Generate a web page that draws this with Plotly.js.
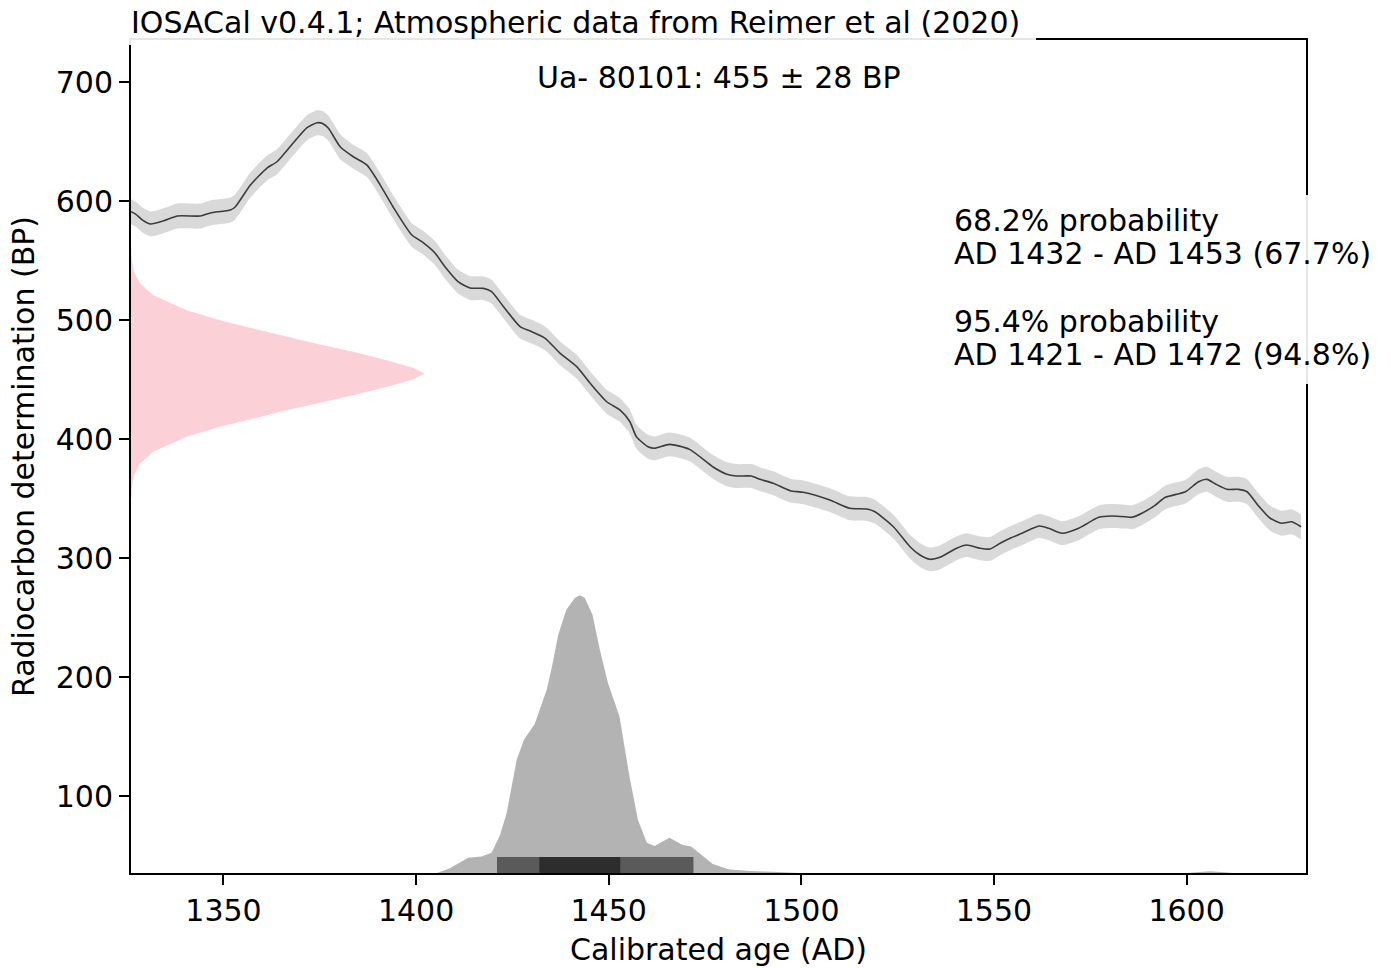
<!DOCTYPE html>
<html>
<head>
<meta charset="utf-8">
<script src="https://cdn.plot.ly/plotly-3.0.1.min.js"></script>
<style>html,body{margin:0;padding:0;background:#fff;}#chart{width:1391px;height:968px;}</style>
</head>
<body>
<div id="chart"></div>
<script>
// Calibration curve (IntCal20)
const curveYears = [1326, 1327.2, 1329, 1331.1, 1334.5, 1338.1, 1344, 1346.6, 1351.8, 1353.1, 1357, 1361.3, 1363.9, 1368.1, 1371.7, 1374.3, 1375.6, 1377.2, 1380.3, 1383.7, 1387.2, 1390.7, 1394, 1398.9, 1401.5, 1404.9, 1407.5, 1410.9, 1414, 1417.5, 1419.6, 1422.7, 1427, 1430, 1433.5, 1437.4, 1441.7, 1445.2, 1449.5, 1452.9, 1455.5, 1457.2, 1460.2, 1461.9, 1465.8, 1471, 1477, 1480.5, 1483.1, 1487, 1489.3, 1492.7, 1497.1, 1500.5, 1507.4, 1512.6, 1517, 1519.1, 1523.9, 1528.2, 1530.8, 1533.4, 1536, 1540.3, 1542.9, 1546.4, 1549, 1551.6, 1554.2, 1557.3, 1561.7, 1564.2, 1567.7, 1572, 1577.2, 1580.6, 1584.1, 1585.8, 1588.4, 1591.9, 1594.5, 1599.7, 1603.1, 1605.3, 1607.5, 1610.5, 1613.5, 1615.7, 1618.7, 1621.7, 1624.7, 1627.3, 1629.7];
const curveBP = [591, 589, 584, 580.7, 583.4, 587.4, 587.4, 590, 592.4, 595.2, 613.4, 627.7, 633, 648.7, 661.6, 665.8, 665.3, 661.3, 645.6, 637.2, 630.3, 613.4, 595.2, 571.4, 565.8, 556.3, 544.8, 532.2, 526.9, 526.6, 523.8, 511.2, 494.4, 490.2, 484.6, 472, 460.8, 446.8, 431.3, 424.4, 414.5, 401.9, 393.5, 392.2, 395.5, 391.3, 376.7, 370.6, 368.9, 368.9, 366.1, 362.8, 356.6, 355.2, 348.7, 341.8, 341.2, 338.9, 326.3, 309.5, 302.5, 298.9, 300.6, 308.2, 310.9, 308.2, 307.6, 312.4, 316.6, 320.8, 326.9, 325, 320.8, 325, 334.2, 335.3, 334.7, 334.2, 337.6, 344.5, 351, 355.7, 364.1, 366.1, 362.2, 357.7, 357.7, 355.7, 343.7, 333.4, 329.2, 330.5, 326.3];
const curveSigma = [10.5, 10.5, 10.5, 10.5, 10.5, 10.5, 10.5, 10.5, 10.5, 10.5, 10.5, 10.5, 10.5, 10.5, 10.5, 10.5, 10.5, 10.5, 10.5, 10, 10, 10, 10, 10, 10, 10, 10, 10, 10, 10, 10, 10, 10, 10, 10, 10, 10, 10, 10, 10, 10, 10, 10, 10, 10, 10, 10, 10, 10, 10, 10, 10, 10, 10, 10, 10, 10, 10, 10, 10, 10, 10, 10, 10, 10, 10, 10, 10, 10, 10, 10, 10, 10, 10, 10, 10, 10, 10, 10, 10, 10, 10, 10.5, 10.5, 10.5, 10.5, 10.5, 10.5, 10.5, 10.5, 10.5, 10.5, 10.5];

// Radiocarbon determination (normal curve, relative width)
const dateBP = [350, 360, 369.4, 379.4, 389.2, 401.8, 410.2, 417.2, 424.2, 430.5, 436.75, 443.8, 450.1, 455, 459.9, 466.2, 473.25, 479.5, 485.8, 492.8, 499.8, 508.2, 520.8, 530.6, 540.6, 550, 560];
const dateDensity = [0.001, 0.003, 0.01, 0.031, 0.076, 0.189, 0.303, 0.416, 0.53, 0.643, 0.756, 0.87, 0.96, 1.0, 0.96, 0.87, 0.756, 0.643, 0.53, 0.416, 0.303, 0.189, 0.076, 0.031, 0.01, 0.003, 0.001];

// Calibrated probability distribution (relative)
const calYears = [1400, 1405.4, 1408.8, 1411, 1413.5, 1417, 1419.6, 1421.8, 1423.5, 1426.1, 1428, 1430.8, 1433.9, 1435.2, 1436.9, 1439, 1441.2, 1442.5, 1443.8, 1445.8, 1447.7, 1449.8, 1452.8, 1455.4, 1457.6, 1459.9, 1461.9, 1465.8, 1469.2, 1471.4, 1474, 1477, 1481.3, 1486.5, 1490.9, 1499.5, 1600, 1603, 1606, 1609, 1612];
const calProb = [0, 0, 0.017, 0.035, 0.055, 0.059, 0.073, 0.137, 0.215, 0.407, 0.48, 0.537, 0.66, 0.738, 0.858, 0.948, 0.99, 1.0, 0.99, 0.93, 0.804, 0.684, 0.564, 0.347, 0.191, 0.109, 0.097, 0.127, 0.101, 0.095, 0.065, 0.032, 0.013, 0.007, 0.005, 0, 0, 0.004, 0.006, 0.004, 0];

// HPD intervals
const hpd68 = [1432, 1453];
const hpd95 = [1421, 1472];
const hpdBarHeight = 0.058;

const xTicks = [1350, 1400, 1450, 1500, 1550, 1600];
const yTicks = [100, 200, 300, 400, 500, 600, 700];

const titleText = 'IOSACal v0.4.1; Atmospheric data from Reimer et al (2020)';
const sampleText = 'Ua- 80101: 455 ± 28 BP';
const probLines = ['68.2% probability', 'AD 1432 - AD 1453 (67.7%)', '95.4% probability', 'AD 1421 - AD 1472 (94.8%)'];

const upper = curveBP.map((v, i) => v + curveSigma[i]);
const lower = curveBP.map((v, i) => v - curveSigma[i]);

const FONT = 'DejaVu Sans, Liberation Sans, sans-serif';

function rectTrace(iv, h, color) {
  return {x: [iv[0], iv[0], iv[1], iv[1], iv[0]], y: [0, h, h, 0, 0], xaxis: 'x', yaxis: 'y2',
          mode: 'lines', line: {width: 0, color: color}, fill: 'toself', fillcolor: color, showlegend: false, hoverinfo: 'skip'};
}

const traces = [
  {x: curveYears, y: upper, mode: 'lines', line: {width: 0, color: '#d9d9d9', shape: 'spline', smoothing: 0.6}, hoverinfo: 'skip', showlegend: false},
  {x: curveYears, y: lower, mode: 'lines', line: {width: 0, color: '#d9d9d9', shape: 'spline', smoothing: 0.6}, fill: 'tonexty', fillcolor: '#d9d9d9', hoverinfo: 'skip', showlegend: false},
  {x: curveYears, y: curveBP, mode: 'lines', line: {width: 1.6, color: '#3c3c3c', shape: 'spline', smoothing: 0.6}, showlegend: false},
  {x: dateDensity, y: dateBP, xaxis: 'x2', yaxis: 'y', mode: 'lines', line: {width: 0, color: '#fbd0d7'}, fill: 'tozerox', fillcolor: '#fbd0d7', showlegend: false},
  {x: calYears, y: calProb, xaxis: 'x', yaxis: 'y2', mode: 'lines', line: {width: 0, color: '#b3b3b3'}, fill: 'tozeroy', fillcolor: '#b3b3b3', showlegend: false},
  rectTrace(hpd95, hpdBarHeight, '#5a5a5a'),
  rectTrace(hpd68, hpdBarHeight, '#2d2d2d')
];

const W = 1391, H = 968, L = 131, R = 85, T = 40, B = 95;
const pw = W - L - R, ph = H - T - B;
const px = (x) => (x - L) / pw;
const py = (y) => (H - B - y) / ph;

const annotations = [
  {text: titleText, xref: 'paper', yref: 'paper', x: px(129), y: py(23), xanchor: 'left', yanchor: 'middle', showarrow: false, font: {family: FONT, size: 30, color: '#000'}},
  {text: sampleText, xref: 'paper', yref: 'paper', x: 0.5, y: py(77), xanchor: 'center', yanchor: 'middle', showarrow: false, font: {family: FONT, size: 30, color: '#000'}}
];
const lineYs = [221, 253.5, 321, 354.5];
probLines.forEach((t, i) => {
  annotations.push({text: t, xref: 'paper', yref: 'paper', x: px(952), y: py(lineYs[i]), xanchor: 'left', yanchor: 'middle', showarrow: false, font: {family: FONT, size: 30, color: '#000'}});
});

const layout = {
  width: W, height: H,
  margin: {l: L, r: R, t: T, b: B, pad: 0},
  paper_bgcolor: '#fff', plot_bgcolor: '#fff',
  font: {family: FONT, size: 30, color: '#000'},
  showlegend: false,
  xaxis: {
    range: [1326, 1631], tickvals: xTicks, ticktext: xTicks.map(String),
    ticks: 'outside', ticklen: 10, tickwidth: 2, tickcolor: '#000',
    showline: true, linewidth: 2, linecolor: '#000', mirror: true,
    showgrid: false, zeroline: false,
    tickfont: {family: FONT, size: 30, color: '#000'},
    title: {text: 'Calibrated age (AD)', font: {family: FONT, size: 30, color: '#000'}, standoff: 12}
  },
  yaxis: {
    range: [35.3, 735.3], tickvals: yTicks, ticktext: yTicks.map(String),
    ticks: 'outside', ticklen: 10, tickwidth: 2, tickcolor: '#000',
    showline: true, linewidth: 2, linecolor: '#000', mirror: true,
    showgrid: false, zeroline: false,
    tickfont: {family: FONT, size: 30, color: '#000'},
    title: {text: 'Radiocarbon determination (BP)', font: {family: FONT, size: 30, color: '#000'}, standoff: 12}
  },
  xaxis2: {overlaying: 'x', range: [0, 4], visible: false, showgrid: false, zeroline: false},
  yaxis2: {overlaying: 'y', range: [0, 3.0], visible: false, showgrid: false, zeroline: false},
  shapes: [
    {type: 'rect', xref: 'paper', yref: 'paper', x0: px(119), x1: px(1036), y0: py(45), y1: py(0), fillcolor: 'rgba(255,255,255,0.9)', line: {width: 0}, layer: 'above'},
    {type: 'rect', xref: 'paper', yref: 'paper', x0: px(943), x1: px(1391), y0: py(384), y1: py(195), fillcolor: 'rgba(255,255,255,0.9)', line: {width: 0}, layer: 'above'}
  ],
  annotations: annotations
};

Plotly.newPlot('chart', traces, layout, {displayModeBar: false, staticPlot: true});
</script>
</body>
</html>
